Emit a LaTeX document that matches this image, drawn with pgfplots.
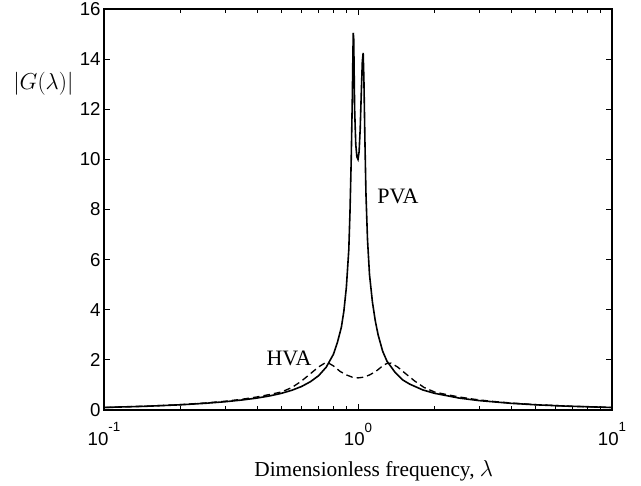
\documentclass[border=0pt]{standalone}
\usepackage{pgfplots}
\pgfplotsset{compat=1.18}
\usepackage{fontspec}
\setmainfont{Liberation Serif}
\newfontfamily\arial{Liberation Sans}
\newcommand{\tp}[1]{10\raisebox{10pt}{\fontsize{10}{11}\selectfont #1}}
\begin{document}
\begin{tikzpicture}
\begin{axis}[
  scale only axis,
  width=381pt, height=300.75pt,
  xmode=log, xmin=0.1, xmax=10,
  ymin=0, ymax=16,
  ytick={0,2,...,16},
  xtick={0.1,1,10},
  xticklabels={{\tp{-1}},{\tp{0}},{\tp{1}}},
  /pgf/number format/assume math mode=true,
  tick label style={font=\arial\fontsize{14}{16}\selectfont},
  yticklabel style={xshift=1pt},
  xticklabel style={yshift=-6pt},
  axis line style={line width=0.8pt},
  tick style={line width=0.6pt, black},
  clip=false,
]
\addplot[black, line width=1.2pt] coordinates {
(0.1,0.101) (0.15,0.153) (0.2,0.208) (0.25,0.267) (0.3,0.33) (0.35,0.40) (0.4,0.476) (0.45,0.564) (0.5,0.667) (0.55,0.79) (0.6,0.94) (0.65,1.13) (0.7,1.37) (0.75,1.71) (0.8,2.22) (0.83,2.7) (0.86,3.3) (0.88,3.95) (0.9,4.9) (0.92,6.4) (0.93,7.9) (0.94,9.9) (0.95,12.5) (0.955,14.2) (0.958,15.05) (0.962,14.8) (0.97,12.0) (0.98,10.6) (0.99,10.1) (1.0,10.0) (1.01,10.3) (1.02,11.2) (1.03,12.6) (1.04,13.9) (1.048,14.25) (1.055,13.2) (1.065,10.7) (1.075,8.6) (1.09,6.8) (1.11,5.4) (1.14,4.3) (1.17,3.55) (1.2,3.0) (1.25,2.35) (1.3,1.95) (1.4,1.5) (1.5,1.2) (1.6,1.03) (1.8,0.80) (2,0.667) (2.5,0.476) (3,0.375) (4,0.267) (5,0.208) (6.67,0.153) (10,0.101)
};
\addplot[black, line width=1.0pt, dash pattern=on 5pt off 3pt] coordinates {
(0.1,0.10) (0.15,0.155) (0.2,0.215) (0.25,0.28) (0.3,0.35) (0.35,0.43) (0.4,0.52) (0.45,0.62) (0.5,0.72) (0.55,0.90) (0.6,1.16) (0.65,1.45) (0.7,1.72) (0.74,1.87) (0.77,1.86) (0.8,1.76) (0.85,1.54) (0.9,1.40) (0.95,1.31) (1.0,1.28) (1.053,1.31) (1.111,1.40) (1.176,1.54) (1.25,1.76) (1.30,1.86) (1.35,1.87) (1.43,1.72) (1.54,1.45) (1.67,1.16) (1.82,0.90) (2.0,0.72) (2.22,0.62) (2.5,0.52) (2.86,0.43) (3.33,0.35) (4,0.28) (5,0.215) (6.67,0.155) (10,0.10)
};
\node[font=\fontsize{16.5}{18}\selectfont] at (axis cs:1.437,8.54) {PVA};
\node[font=\fontsize{16.5}{18}\selectfont] at (axis cs:0.535,2.05) {HVA};
\node[font=\fontsize{16.5}{18}\selectfont, anchor=west, inner sep=0pt] at (rel axis cs:-0.179,0.813) {$\left|G(\lambda)\right|$};
\node[font=\fontsize{16}{18}\selectfont, anchor=base, inner sep=0pt, yshift=-49.5pt] at (rel axis cs:0.531,0) {Dimensionless frequency, $\lambda$};
\end{axis}
\pgfresetboundingbox
\path[use as bounding box] ([xshift=-78pt,yshift=-56.25pt]current axis.south west) rectangle ([xshift=21.75pt,yshift=6.75pt]current axis.north east);
\end{tikzpicture}
\end{document}
